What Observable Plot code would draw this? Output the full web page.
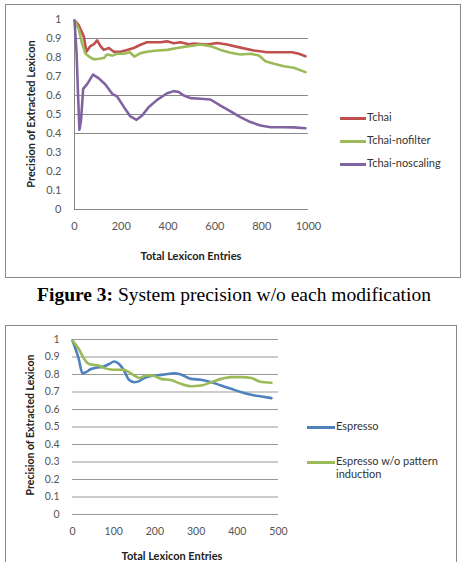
<!DOCTYPE html>
<html><head><meta charset="utf-8">
<script src="https://cdn.jsdelivr.net/npm/d3@7"></script>
<script src="https://cdn.jsdelivr.net/npm/@observablehq/plot@0.6"></script>
<style>
body{margin:0;background:#fff;width:464px;height:562px;overflow:hidden;position:relative;font-family:Lato,sans-serif;}
.box{position:absolute;border:1px solid #8a8a8a;box-sizing:border-box;}
.abs{position:absolute;}
.ttl{position:absolute;font-weight:bold;font-size:11px;color:#222;white-space:nowrap;}
.leg{position:absolute;font-size:11px;color:#333;line-height:12.6px;}
.sw{position:absolute;height:2.5px;}
#caption{position:absolute;left:0;width:468px;text-align:center;top:284px;font-family:"Liberation Serif",serif;font-size:19.5px;color:#000;white-space:nowrap;}
</style></head><body>
<div class="box" style="left:5px;top:4px;width:456px;height:274px"></div>
<div class="box" style="left:5px;top:325px;width:452px;height:260px"></div>
<div id="chart1" class="abs" style="left:0;top:0"></div>
<div id="chart2" class="abs" style="left:0;top:320px"></div>
<div id="caption"><b>Figure 3:</b> System precision w/o each modification</div>
<div id="extras"></div>
<script>
// ---------- Top chart data ----------
const tchaiX = [0,18,40,51,68,83,97,111,125,147,168,197,225,253,282,310,368,396,424,453,489,510,567,610,652,709,766,823,880,930,959,987];
const tchaiY = [.995,.97,.91,.83,.86,.87,.89,.86,.84,.85,.83,.83,.84,.85,.867,.88,.88,.885,.875,.88,.87,.873,.868,.876,.868,.852,.837,.828,.828,.828,.82,.807];
const nofilterX = [0,18,33,47,68,83,104,125,139,161,182,211,236,256,282,310,353,396,439,489,538,581,624,667,709,752,788,816,852,895,937,987];
const nofilterY = [.995,.95,.87,.82,.80,.79,.793,.797,.816,.81,.82,.82,.828,.805,.823,.83,.837,.84,.85,.86,.868,.86,.84,.825,.816,.82,.81,.78,.767,.754,.746,.723];
const noscalingX = [0,9,15,21,28,37,54,79,104,132,161,182,211,239,265,289,318,353,396,424,446,467,496,538,581,624,667,709,752,795,838,895,937,987];
const noscalingY = [.995,.82,.61,.42,.47,.635,.66,.71,.69,.658,.609,.595,.54,.49,.472,.495,.54,.577,.612,.623,.618,.6,.586,.583,.579,.547,.517,.486,.46,.442,.433,.433,.432,.428];
const series1 = ["Tchai","Tchai-nofilter","Tchai-noscaling"];
const colors1 = ["#C0504D","#9BBB59","#8064A2"];
const xTicks1 = [0,200,400,600,800,1000];
const grid1 = [0.9,0.6,0.5,0.4];

// ---------- Bottom chart data ----------
const espressoX = [0,15,24,32,44,60,76,89,101,113,125,137,150,162,174,186,202,223,247,263,288,312,337,361,385,410,434,459,483];
const espressoY = [.994,.89,.807,.813,.83,.84,.846,.86,.874,.86,.823,.77,.756,.762,.78,.789,.794,.8,.807,.8,.775,.77,.756,.737,.718,.699,.684,.674,.665];
const woX = [0,15,28,40,52,64,76,93,109,125,137,150,162,178,194,215,239,263,288,312,337,361,385,410,434,454,483];
const woY = [.994,.947,.89,.86,.855,.851,.838,.829,.827,.827,.813,.794,.78,.794,.794,.775,.768,.747,.733,.737,.756,.775,.785,.785,.78,.76,.753];
const series2 = ["Espresso","Espresso w/o pattern induction"];
const colors2 = ["#4F81BD","#9BBB59"];
const xTicks2 = [0,100,200,300,400,500];
const grid2 = [0.1,0.2,0.3,0.4,0.5,0.6,0.7,0.8,0.9,1];

const yTicks = [0,0.1,0.2,0.3,0.4,0.5,0.6,0.7,0.8,0.9,1];
const yTitle = "Precision of Extracted Lexicon";
const xTitle = "Total Lexicon Entries";

const toRows = (xs, ys, name) => xs.map((x, i) => ({x, y: ys[i], s: name}));
const fmt = d => String(Math.round(d * 10) / 10);

const rows1 = [
  ...toRows(tchaiX, tchaiY, series1[0]),
  ...toRows(nofilterX, nofilterY, series1[1]),
  ...toRows(noscalingX, noscalingY, series1[2])
];
const rows2 = [
  ...toRows(espressoX, espressoY, series2[0]),
  ...toRows(woX, woY, series2[1])
];

const p1 = Plot.plot({
  width: 330, height: 275,
  marginLeft: 74, marginRight: 22, marginTop: 19, marginBottom: 66,
  style: {fontFamily: "Lato, sans-serif", fontSize: "11px", color: "#555", background: "transparent"},
  x: {domain: [0, 1000]},
  y: {domain: [0, 1]},
  color: {domain: series1, range: colors1},
  marks: [
    Plot.ruleY(grid1, {stroke: "#888", strokeWidth: 1}),
    Plot.ruleY([0], {stroke: "#888", strokeWidth: 1}),
    Plot.ruleX([0], {stroke: "#888", strokeWidth: 1}),
    Plot.axisX(xTicks1, {tickSize: 0, tickPadding: 13, label: null, tickFormat: d => String(d)}),
    Plot.axisY(yTicks, {tickSize: 0, tickPadding: 13, label: null, tickFormat: fmt}),
    Plot.line(rows1, {x: "x", y: "y", z: "s", stroke: "s", strokeWidth: 2.6, curve: "linear"})
  ]
});
document.getElementById("chart1").appendChild(p1);

const p2 = Plot.plot({
  width: 300, height: 240,
  marginLeft: 72, marginRight: 22, marginTop: 19, marginBottom: 46,
  style: {fontFamily: "Lato, sans-serif", fontSize: "10.5px", color: "#555", background: "transparent"},
  x: {domain: [0, 500]},
  y: {domain: [0, 1]},
  color: {domain: series2, range: colors2},
  marks: [
    Plot.ruleY(grid2, {stroke: "#999", strokeWidth: 1}),
    Plot.ruleY([0], {stroke: "#999", strokeWidth: 1}),
    Plot.axisX(xTicks2, {tickSize: 0, tickPadding: 13, label: null, tickFormat: d => String(d)}),
    Plot.axisY(yTicks, {tickSize: 0, tickPadding: 13, label: null, tickFormat: fmt}),
    Plot.line(rows2, {x: "x", y: "y", z: "s", stroke: "s", strokeWidth: 2.6, curve: "monotone-x"})
  ]
});
document.getElementById("chart2").appendChild(p2);

// titles and legends (HTML)
const ex = document.getElementById("extras");
function add(html) { ex.insertAdjacentHTML("beforeend", html); }
add(`<div class="ttl" style="left:191px;top:249px;transform:translateX(-50%)">${xTitle}</div>`);
add(`<div class="ttl" style="left:30px;top:114px;transform:translate(-50%,-50%) rotate(-90deg)">${yTitle}</div>`);
add(`<div class="ttl" style="left:172px;top:549px;transform:translateX(-50%)">${xTitle}</div>`);
add(`<div class="ttl" style="left:30px;top:425px;font-size:10.5px;transform:translate(-50%,-50%) rotate(-90deg)">${yTitle}</div>`);
const ly1 = [118, 141, 164];
series1.forEach((s, i) => {
  add(`<div class="sw" style="left:340px;width:26px;top:${ly1[i]-1}px;background:${colors1[i]}"></div>`);
  add(`<div class="leg" style="left:367px;top:${ly1[i]-7}px">${s}</div>`);
});
const ly2 = [427, 462];
const labels2 = ["Espresso", "Espresso w/o pattern<br>induction"];
series2.forEach((s, i) => {
  add(`<div class="sw" style="left:307px;width:28px;top:${ly2[i]-1}px;background:${colors2[i]}"></div>`);
  add(`<div class="leg" style="left:336px;top:${ly2[i]-7}px">${labels2[i]}</div>`);
});
</script>
</body></html>
